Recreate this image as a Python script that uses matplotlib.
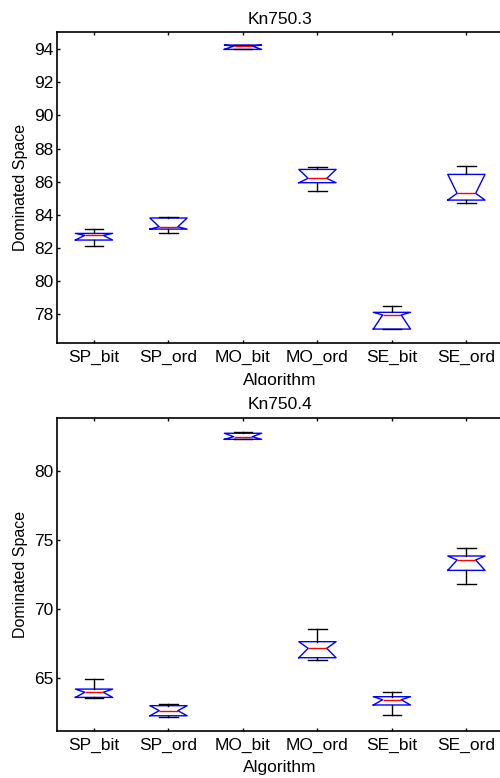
import matplotlib
matplotlib.use('Agg')
import matplotlib.pyplot as plt
from matplotlib.transforms import Bbox, TransformedBbox

plt.rcParams['font.family'] = ['Liberation Sans', 'DejaVu Sans']

algorithms = ['SP_bit', 'SP_ord', 'MO_bit', 'MO_ord', 'SE_bit', 'SE_ord']

# Kn750.3 - box statistics
kn3_whislo = [82.12, 82.92, 93.98, 85.44, 77.11, 84.69]
kn3_q1 = [82.48, 83.14, 93.98, 85.94, 77.11, 84.89]
kn3_med = [82.76, 83.28, 94.18, 86.20, 77.96, 85.30]
kn3_q3 = [82.88, 83.81, 94.24, 86.74, 78.12, 86.44]
kn3_whishi = [83.16, 83.89, 94.24, 86.90, 78.50, 86.96]

# Kn750.4
kn4_whislo = [63.60, 62.20, 82.29, 66.32, 62.34, 71.80]
kn4_q1 = [63.62, 62.29, 82.29, 66.49, 63.07, 72.81]
kn4_med = [63.99, 62.66, 82.48, 67.17, 63.45, 73.56]
kn4_q3 = [64.22, 63.02, 82.73, 67.65, 63.67, 73.85]
kn4_whishi = [64.97, 63.12, 82.84, 68.57, 63.99, 74.45]


def make_stats(lo, q1, med, q3, hi):
    stats = []
    for i in range(len(med)):
        stats.append(dict(whislo=lo[i], q1=q1[i], med=med[i], q3=q3[i],
                          whishi=hi[i], cilo=q1[i], cihi=q3[i], fliers=[]))
    return stats


def draw_panel(ax, stats, title, ylim, yticks, title_pad):
    ax.bxp(stats, positions=range(1, 7), widths=0.5, capwidths=0.25,
           shownotches=True, showfliers=False, patch_artist=False,
           boxprops=dict(color='blue', linewidth=1.0),
           medianprops=dict(color='red', linewidth=1.0),
           whiskerprops=dict(color='black', linewidth=1.0),
           capprops=dict(color='black', linewidth=1.0))
    ax.set_xlim(0.5, 6.5)
    ax.set_ylim(*ylim)
    ax.set_yticks(yticks)
    ax.set_xticks(range(1, 7))
    ax.set_xticklabels(algorithms)
    ax.tick_params(direction='in', length=2.5, width=1.0, top=True, right=True,
                   labelsize=12.5)
    ax.tick_params(axis='x', pad=5)
    ax.tick_params(axis='y', pad=2.5)
    for s in ax.spines.values():
        s.set_linewidth(1.2)
    ax.set_title(title, fontsize=12.5, pad=title_pad)
    ax.set_xlabel('Algorithm', fontsize=12.5, labelpad=5.5)
    ax.set_ylabel('Dominated Space', fontsize=11.5, labelpad=4)


fig = plt.figure(figsize=(5, 7.78), dpi=100)
ax1 = fig.add_axes([0.1136, 0.5587, 0.8936, 0.4006])
ax2 = fig.add_axes([0.1136, 0.0608, 0.8936, 0.4015])

draw_panel(ax1, make_stats(kn3_whislo, kn3_q1, kn3_med, kn3_q3, kn3_whishi),
           'Kn750.3', (76.25, 95.05), range(78, 95, 2), 5.5)
draw_panel(ax2, make_stats(kn4_whislo, kn4_q1, kn4_med, kn4_q3, kn4_whishi),
           'Kn750.4', (61.21, 83.81), [65, 70, 75, 80], 6.5)

# the top "Algorithm" label is cut off by the lower panel in the original
lab = ax1.xaxis.label
lab.set_clip_box(TransformedBbox(Bbox([[0, 0.5051], [1, 1]]), fig.transFigure))
lab.set_clip_on(True)

fig.savefig('out.png', dpi=100)
